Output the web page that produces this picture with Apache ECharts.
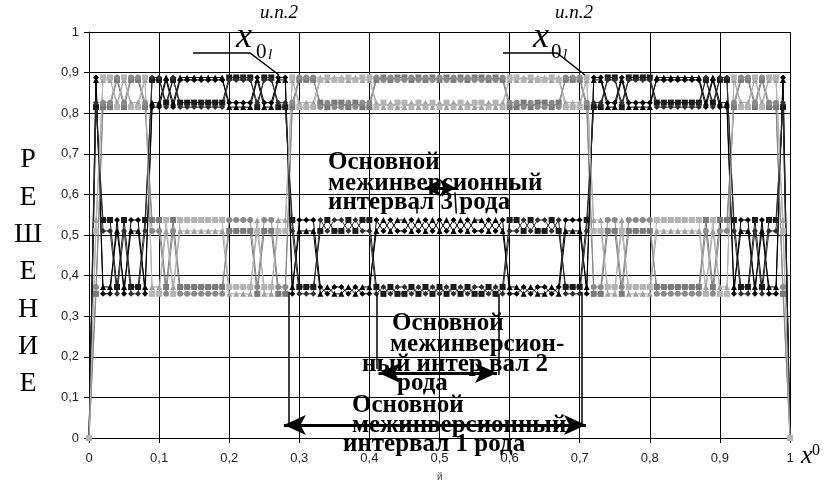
<!DOCTYPE html>
<html><head><meta charset="utf-8">
<script src="https://cdn.jsdelivr.net/npm/echarts@6/dist/echarts.min.js"></script>
<style>html,body{margin:0;padding:0;background:#fff}#c{width:825px;height:483px}</style>
</head><body><div id="c"></div>
<script>
// x0 values (initial condition)
const xs = [0,0.01,0.02,0.03,0.04,0.05,0.06,0.07,0.08,0.09,0.1,0.11,0.12,0.13,0.14,0.15,0.16,0.17,0.18,0.19,0.2,0.21,0.22,0.23,0.24,0.25,0.26,0.27,0.28,0.29,0.3,0.31,0.32,0.33,0.34,0.35,0.36,0.37,0.38,0.39,0.4,0.41,0.42,0.43,0.44,0.45,0.46,0.47,0.48,0.49,0.5,0.51,0.52,0.53,0.54,0.55,0.56,0.57,0.58,0.59,0.6,0.61,0.62,0.63,0.64,0.65,0.66,0.67,0.68,0.69,0.7,0.71,0.72,0.73,0.74,0.75,0.76,0.77,0.78,0.79,0.8,0.81,0.82,0.83,0.84,0.85,0.86,0.87,0.88,0.89,0.9,0.91,0.92,0.93,0.94,0.95,0.96,0.97,0.98,0.99,1];

const s0 = [0,.888,.355,.355,.537,.355,.537,.537,.355,.815,.815,.882,.815,.882,.882,.882,.882,.882,.882,.882,.826,.826,.826,.826,.888,.826,.826,.888,.888,.355,.537,.537,.537,.372,.355,.372,.372,.355,.372,.355,.355,.537,.51,.537,.51,.51,.537,.51,.537,.51,.537,.51,.537,.51,.537,.51,.51,.537,.51,.537,.355,.355,.372,.355,.372,.372,.355,.372,.537,.537,.537,.355,.888,.888,.826,.826,.888,.826,.826,.826,.826,.882,.882,.882,.882,.882,.882,.882,.815,.882,.815,.815,.355,.537,.537,.355,.537,.355,.355,.888,0];
const s1 = [0,.355,.815,.815,.882,.815,.882,.882,.815,.537,.537,.372,.537,.372,.372,.372,.372,.372,.372,.372,.51,.51,.51,.51,.355,.51,.51,.355,.355,.815,.882,.882,.882,.826,.815,.826,.826,.815,.826,.815,.815,.882,.888,.882,.888,.888,.882,.888,.882,.888,.882,.888,.882,.888,.882,.888,.888,.882,.888,.882,.815,.815,.826,.815,.826,.826,.815,.826,.882,.882,.882,.815,.355,.355,.51,.51,.355,.51,.51,.51,.51,.372,.372,.372,.372,.372,.372,.372,.537,.372,.537,.537,.815,.882,.882,.815,.882,.815,.815,.355,0];
const s2 = [0,.815,.537,.537,.372,.537,.372,.372,.537,.882,.882,.826,.882,.826,.826,.826,.826,.826,.826,.826,.888,.888,.888,.888,.815,.888,.888,.815,.815,.537,.372,.372,.372,.51,.537,.51,.51,.537,.51,.537,.537,.372,.355,.372,.355,.355,.372,.355,.372,.355,.372,.355,.372,.355,.372,.355,.355,.372,.355,.372,.537,.537,.51,.537,.51,.51,.537,.51,.372,.372,.372,.537,.815,.815,.888,.888,.815,.888,.888,.888,.888,.826,.826,.826,.826,.826,.826,.826,.882,.826,.882,.882,.537,.372,.372,.537,.372,.537,.537,.815,0];
const s3 = [0,.537,.882,.882,.826,.882,.826,.826,.882,.372,.372,.51,.372,.51,.51,.51,.51,.51,.51,.51,.355,.355,.355,.355,.537,.355,.355,.537,.537,.882,.826,.826,.826,.888,.882,.888,.888,.882,.888,.882,.882,.826,.815,.826,.815,.815,.826,.815,.826,.815,.826,.815,.826,.815,.826,.815,.815,.826,.815,.826,.882,.882,.888,.882,.888,.888,.882,.888,.826,.826,.826,.882,.537,.537,.355,.355,.537,.355,.355,.355,.355,.51,.51,.51,.51,.51,.51,.51,.372,.51,.372,.372,.882,.826,.826,.882,.826,.882,.882,.537,0];
const s4 = [0,.882,.372,.372,.51,.372,.51,.51,.372,.826,.826,.888,.826,.888,.888,.888,.888,.888,.888,.888,.815,.815,.815,.815,.882,.815,.815,.882,.882,.372,.51,.51,.51,.355,.372,.355,.355,.372,.355,.372,.372,.51,.537,.51,.537,.537,.51,.537,.51,.537,.51,.537,.51,.537,.51,.537,.537,.51,.537,.51,.372,.372,.355,.372,.355,.355,.372,.355,.51,.51,.51,.372,.882,.882,.815,.815,.882,.815,.815,.815,.815,.888,.888,.888,.888,.888,.888,.888,.826,.888,.826,.826,.372,.51,.51,.372,.51,.372,.372,.882,0];
const s5 = [0,.372,.826,.826,.888,.826,.888,.888,.826,.51,.51,.355,.51,.355,.355,.355,.355,.355,.355,.355,.537,.537,.537,.537,.372,.537,.537,.372,.372,.826,.888,.888,.888,.815,.826,.815,.815,.826,.815,.826,.826,.888,.882,.888,.882,.882,.888,.882,.888,.882,.888,.882,.888,.882,.888,.882,.882,.888,.882,.888,.826,.826,.815,.826,.815,.815,.826,.815,.888,.888,.888,.826,.372,.372,.537,.537,.372,.537,.537,.537,.537,.355,.355,.355,.355,.355,.355,.355,.51,.355,.51,.51,.826,.888,.888,.826,.888,.826,.826,.372,0];
const s6 = [0,.826,.51,.51,.355,.51,.355,.355,.51,.888,.888,.815,.888,.815,.815,.815,.815,.815,.815,.815,.882,.882,.882,.882,.826,.882,.882,.826,.826,.51,.355,.355,.355,.537,.51,.537,.537,.51,.537,.51,.51,.355,.372,.355,.372,.372,.355,.372,.355,.372,.355,.372,.355,.372,.355,.372,.372,.355,.372,.355,.51,.51,.537,.51,.537,.537,.51,.537,.355,.355,.355,.51,.826,.826,.882,.882,.826,.882,.882,.882,.882,.815,.815,.815,.815,.815,.815,.815,.888,.815,.888,.888,.51,.355,.355,.51,.355,.51,.51,.826,0];
const s7 = [0,.51,.888,.888,.815,.888,.815,.815,.888,.355,.355,.537,.355,.537,.537,.537,.537,.537,.537,.537,.372,.372,.372,.372,.51,.372,.372,.51,.51,.888,.815,.815,.815,.882,.888,.882,.882,.888,.882,.888,.888,.815,.826,.815,.826,.826,.815,.826,.815,.826,.815,.826,.815,.826,.815,.826,.826,.815,.826,.815,.888,.888,.882,.888,.882,.882,.888,.882,.815,.815,.815,.888,.51,.51,.372,.372,.51,.372,.372,.372,.372,.537,.537,.537,.537,.537,.537,.537,.355,.537,.355,.355,.888,.815,.815,.888,.815,.888,.888,.51,0];

const seriesData = [s0,s1,s2,s3,s4,s5,s6,s7];
const styles = [
  {c:'#000000', m:'diamond'}, {c:'#7a7a7a', m:'rect'},
  {c:'#1a1a1a', m:'rect'},    {c:'#a0a0a0', m:'triangle'},
  {c:'#000000', m:'triangle'},{c:'#8a8a8a', m:'circle'},
  {c:'#2e2e2e', m:'diamond'}, {c:'#b4b4b4', m:'rect'}
];
const yLetters = ['Р','Е','Ш','Е','Н','И','Е'];

const fmt = v => String(Math.round(v*10)/10).replace('.', ',');
const chart = echarts.init(document.getElementById('c'), null, {renderer:'canvas'});

const series = seriesData.map((arr,k) => ({
  type:'line', data: xs.map((x,i)=>[x, arr[i]]), symbol: styles[k].m, symbolSize: 6,
  showAllSymbol: true, lineStyle:{color: styles[k].c, width:1}, itemStyle:{color: styles[k].c},
  animation:false, z: 2
}));

const blk = {color:'#000', width:3, type:'solid'};
const thin = {color:'#000', width:1.5, type:'solid'};
series.push({
  type:'line', data:[], animation:false, z: 5,
  markLine:{ silent:true, animation:false, label:{show:false},
    data:[
      [{coord:[0.278,0.032], symbol:'arrow', symbolSize:[15,22], lineStyle:blk},{coord:[0.709,0.032], symbol:'arrow', symbolSize:[15,22]}],
      [{coord:[0.285,0.36], symbol:'none', lineStyle:thin},{coord:[0.285,0.03], symbol:'none'}],
      [{coord:[0.703,0.36], symbol:'none', lineStyle:thin},{coord:[0.703,0.03], symbol:'none'}],
      [{coord:[0.413,0.16], symbol:'arrow', symbolSize:[15,22], lineStyle:blk},{coord:[0.582,0.16], symbol:'arrow', symbolSize:[15,22]}],
      [{coord:[0.411,0.355], symbol:'none', lineStyle:thin},{coord:[0.411,0.17], symbol:'none'}],
      [{coord:[0.584,0.355], symbol:'none', lineStyle:thin},{coord:[0.584,0.155], symbol:'none'}],
      [{coord:[0.479,0.616], symbol:'arrow', symbolSize:[13,16], lineStyle:blk},{coord:[0.523,0.616], symbol:'arrow', symbolSize:[13,16]}],
      [{coord:[0.468,0.583], symbol:'none', lineStyle:thin},{coord:[0.468,0.553], symbol:'none'}],
      [{coord:[0.522,0.605], symbol:'none', lineStyle:thin},{coord:[0.524,0.553], symbol:'none'}]
    ]}
});

const bold = 'bold 25px "Liberation Serif"';
const T = (x,y,text,font) => ({type:'text', left:x, top:y, z:100, style:{text, font, fill:'#000', textVerticalAlign:'middle'}});
const graphics = [
  T(328,150,'Основной',bold), T(328,171,'межинверсионный',bold), T(328,190,'интервал 3 рода',bold),
  T(392,311,'Основной',bold), T(390,332,'межинверсион-',bold), T(362,352,'ный интер вал 2',bold), T(397,371,'рода',bold),
  T(352,393,'Основной',bold), T(352,413,'межинверсионный',bold), T(343,432,'интервал 1 рода',bold),
  // x0 labels
  {type:'text', left:236, top:20, z:100, style:{text:'x', font:'italic 36px "Liberation Serif"', fill:'#000'}},
  {type:'text', left:256, top:42, z:100, style:{text:'0', font:'21px "Liberation Serif"', fill:'#000'}},
  {type:'text', left:268, top:48, z:100, style:{text:'l', font:'italic 15px "Liberation Serif"', fill:'#000'}},
  {type:'text', left:260, top:3, z:100, style:{text:'u.n.2', font:'italic 19px "Liberation Serif"', fill:'#000'}},
  {type:'text', left:533, top:20, z:100, style:{text:'x', font:'italic 36px "Liberation Serif"', fill:'#000'}},
  {type:'text', left:551, top:42, z:100, style:{text:'0', font:'21px "Liberation Serif"', fill:'#000'}},
  {type:'text', left:563, top:48, z:100, style:{text:'l', font:'italic 15px "Liberation Serif"', fill:'#000'}},
  {type:'text', left:555, top:3, z:100, style:{text:'u.n.2', font:'italic 19px "Liberation Serif"', fill:'#000'}},
  {type:'polyline', z:100, shape:{points:[[193,53],[250,53],[279,75]]}, style:{stroke:'#000', lineWidth:1.5, fill:null}},
  {type:'polyline', z:100, shape:{points:[[503,53],[557,53],[585,75]]}, style:{stroke:'#000', lineWidth:1.5, fill:null}},
  // x axis name
  {type:'text', left:801, top:443, z:100, style:{text:'x', font:'italic 26px "Liberation Serif"', fill:'#000'}},
  {type:'text', left:812, top:443, z:100, style:{text:'0', font:'16px "Liberation Serif"', fill:'#000'}},
  {type:'text', left:437, top:472, z:100, style:{text:'й', font:'10px "Liberation Sans"', fill:'#444'}}
];
yLetters.forEach((ch,i)=>graphics.push({type:'text', z:100, x:28, y:160+i*37.3,
  style:{text:ch, font:'28px "Liberation Serif"', fill:'#000', textAlign:'center', textVerticalAlign:'middle'}}));

const axisCommon = {
  type:'value', min:0, max:1, interval:0.1,
  axisLine:{show:true, lineStyle:{color:'#000', width:1}},
  axisTick:{show:true, length:5, lineStyle:{color:'#000'}},
  splitLine:{show:true, lineStyle:{color:'#000', width:1}},
  axisLabel:{formatter:fmt, color:'#222', fontSize:13, fontFamily:'"Liberation Sans", Arial, sans-serif'}
};
chart.setOption({
  animation:false, backgroundColor:'#fff',
  grid:{left:89, right:35, top:32, bottom:45, containLabel:false},
  xAxis: Object.assign({}, axisCommon, {axisLabel:Object.assign({}, axisCommon.axisLabel, {margin:14})}),
  yAxis: Object.assign({}, axisCommon, {axisLabel:Object.assign({}, axisCommon.axisLabel, {margin:10})}),
  series, graphic: graphics
});
</script></body></html>
